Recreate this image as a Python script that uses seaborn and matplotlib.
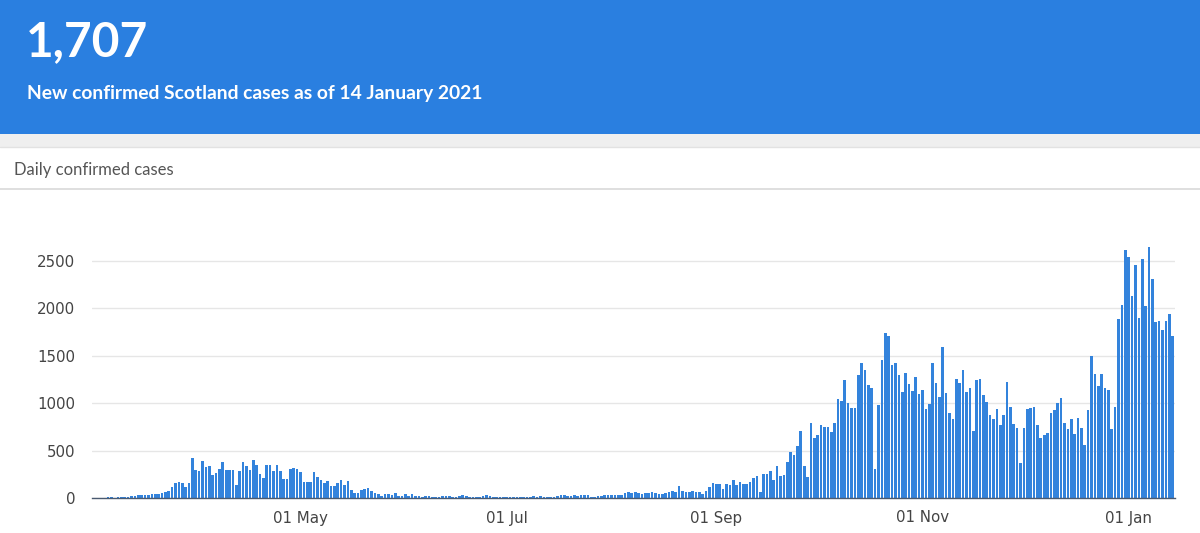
import pandas as pd
import numpy as np
import matplotlib
matplotlib.use("Agg")
import matplotlib.pyplot as plt
from matplotlib.patches import Rectangle
import seaborn as sns

# daily confirmed cases (1 Mar 2020 - 14 Jan 2021)
mar = [1, 2, 3, 5, 6, 8, 5, 9, 8, 10, 12, 24, 25, 28, 30, 32, 27, 42, 45, 40,
       50, 66, 70, 119, 155, 169, 162, 119, 162, 420, 300]
apr = [280, 385, 330, 336, 245, 260, 310, 375, 300, 300, 300, 140, 280, 375, 336,
       295, 395, 350, 250, 208, 350, 350, 284, 351, 284, 195, 195, 309, 316, 302]
may = [273, 167, 167, 167, 273, 220, 185, 156, 174, 131, 131, 160, 185, 142, 181,
       85, 50, 50, 89, 96, 107, 78, 50, 43, 25, 46, 46, 32, 50, 25, 25]
jun = [43, 25, 46, 25, 20, 15, 18, 22, 12, 10, 14, 18, 22, 20, 10, 12, 25, 27, 26,
       12, 10, 15, 14, 18, 28, 20, 12, 10, 8, 10]
jul = [9, 12, 8, 10, 8, 12, 10, 14, 20, 15, 22, 14, 12, 10, 14, 18, 27, 30, 24, 18,
       28, 22, 30, 30, 28, 15, 12, 16, 26, 28, 27]
aug = [29, 30, 28, 30, 55, 62, 48, 60, 50, 40, 55, 52, 60, 52, 45, 38, 55, 60, 75,
       65, 122, 78, 65, 60, 73, 62, 60, 42, 77, 112, 154]
sep = [147, 147, 95, 147, 137, 193, 137, 165, 147, 147, 165, 207, 235, 60, 252,
       252, 280, 189, 340, 235, 245, 375, 480, 455, 550, 707, 340, 217, 795, 637]
oct_ = [661, 766, 752, 752, 690, 787, 1046, 1022, 1239, 1004, 952, 952, 1291, 1424,
        1347, 1190, 1162, 304, 980, 1452, 1739, 1705, 1397, 1424, 1295, 1116, 1320,
        1197, 1127, 1274, 1092]
nov = [1141, 941, 987, 1424, 1214, 1064, 1589, 1109, 900, 829, 1256, 1207, 1347,
       1116, 1155, 707, 1239, 1256, 1081, 1011, 875, 836, 941, 766, 871, 1221, 959,
       777, 742, 364]
dec = [742, 941, 952, 959, 766, 637, 661, 682, 892, 924, 997, 1057, 794, 724, 836,
       679, 847, 735, 560, 927, 1494, 1309, 1179, 1309, 1155, 1137, 731, 959, 1890,
       2037, 2614]
jan = [2534, 2131, 2457, 1897, 2520, 2026, 2642, 2306, 1855, 1869, 1774, 1869,
       1942, 1707]

tick_dates = ["2020-05-01", "2020-07-01", "2020-09-01", "2020-11-01", "2021-01-01"]
tick_labels = ["01 May", "01 Jul", "01 Sep", "01 Nov", "01 Jan"]
y_ticks = [0, 500, 1000, 1500, 2000, 2500]

headline = "1,707"
subtitle = "New confirmed Scotland cases as of 14 January 2021"
panel_title = "Daily confirmed cases"

cases = mar + apr + may + jun + jul + aug + sep + oct_ + nov + dec + jan
dates = pd.date_range("2020-03-01", periods=len(cases), freq="D")
df = pd.DataFrame({"date": dates, "cases": cases})
df["pos"] = np.arange(len(df))

sns.set_style("white")
plt.rcParams["font.family"] = ["DejaVu Sans"]

W, H = 1200, 533
fig = plt.figure(figsize=(12, 5.33), dpi=100)


def fy(px):
    return 1 - px / H


# header banner and panel
fig.patches.append(Rectangle((0, fy(134)), 1, 134 / H, transform=fig.transFigure,
                             facecolor="#2a7fe0", edgecolor="none", zorder=0))
fig.patches.append(Rectangle((0, fy(147)), 1, 13 / H, transform=fig.transFigure,
                             facecolor="#efefef", edgecolor="none", zorder=0))
fig.lines.append(plt.Line2D([0, 1], [fy(189), fy(189)], transform=fig.transFigure,
                            color="#d9d9d9", lw=1.2))
fig.lines.append(plt.Line2D([0, 1], [fy(147.5), fy(147.5)], transform=fig.transFigure,
                            color="#e2e2e2", lw=1))

fig.text(26 / W, fy(42), headline, color="white", fontsize=34.5, fontweight="bold",
         family=["Lato", "DejaVu Sans"], va="center", ha="left")
fig.text(27 / W, fy(94), subtitle, color="white", fontsize=13.9, fontweight="bold",
         family=["Lato", "DejaVu Sans"], va="center", ha="left")
fig.text(14 / W, fy(170), panel_title, color="#555555", fontsize=12,
         family=["Lato", "DejaVu Sans"], va="center", ha="left")

ax = fig.add_axes([92 / W, fy(498), (1175 - 92) / W, (498 - 234) / H])
sns.barplot(data=df, x="pos", y="cases", color="#3383dc", width=0.78,
            saturation=1, native_scale=True, ax=ax, edgecolor="none")

ax.set_xlim(-0.7, len(df) - 0.3)
ax.set_ylim(0, 2780)
ax.set_yticks(y_ticks)
ax.set_yticklabels([str(v) for v in y_ticks])
pos = [int(df.loc[df["date"] == pd.Timestamp(d), "pos"].iloc[0]) for d in tick_dates]
ax.set_xticks(pos)
ax.set_xticklabels(tick_labels)
ax.set_xlabel("")
ax.set_ylabel("")
ax.grid(axis="y", color="#e6e6e6", lw=1)
ax.set_axisbelow(True)
for s in ["top", "right", "left"]:
    ax.spines[s].set_visible(False)
ax.spines["bottom"].set_color("#4a5a70")
ax.spines["bottom"].set_linewidth(1)
ax.tick_params(axis="both", length=0, labelsize=10.8, colors="#444444")
ax.tick_params(axis="y", pad=12)
ax.tick_params(axis="x", pad=9)

fig.savefig("out.png", dpi=100)
